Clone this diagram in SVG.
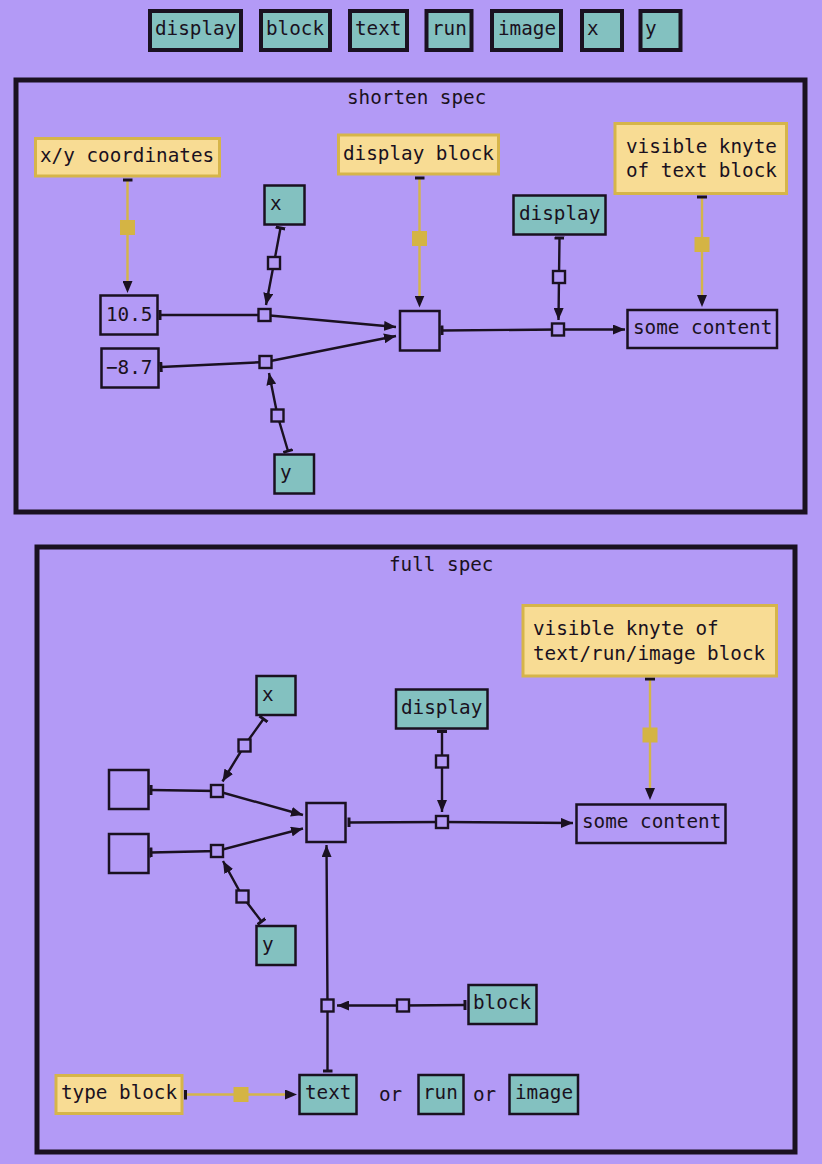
<svg xmlns="http://www.w3.org/2000/svg" width="822" height="1164" viewBox="0 0 822 1164">
<defs>
<style>
text{font-family:"DejaVu Sans Mono","Liberation Mono",monospace;font-size:19.3px;fill:#1a1120}
.leg{fill:#83c1c0;stroke:#1a1120;stroke-width:4}
.teal{fill:#83c1c0;stroke:#1a1120;stroke-width:2.5}
.plain{fill:#b39af6;stroke:#1a1120;stroke-width:2.5}
.yel{fill:#f8dc94;stroke:#d6b54a;stroke-width:3}
.frame{fill:none;stroke:#1a1120;stroke-width:5}
.e{fill:none;stroke:#1a1120;stroke-width:2.4;marker-start:url(#tee);marker-end:url(#arrow)}
.ey{fill:none;stroke:#d4b54a;stroke-width:2.4;marker-start:url(#tee);marker-end:url(#arrowY)}
.sq{fill:#b39af6;stroke:#1a1120;stroke-width:2.4}
.sqy{fill:#d4b444}
</style>
<marker id="arrow" viewBox="0 0 12 10" refX="12" refY="5" markerWidth="12" markerHeight="10" orient="auto" markerUnits="userSpaceOnUse"><path d="M0,0L12,5L0,10z" fill="#1a1120"/></marker>
<marker id="arrowY" viewBox="0 0 12 10" refX="2" refY="5" markerWidth="12" markerHeight="10" orient="auto" markerUnits="userSpaceOnUse"><path d="M0,0L12,5L0,10z" fill="#1a1120"/></marker>
<marker id="tee" viewBox="-2 -5 4 10" refX="0" refY="0" markerWidth="4" markerHeight="10" orient="auto" markerUnits="userSpaceOnUse"><path d="M0,-5V5" stroke="#1a1120" stroke-width="3"/></marker>
</defs>
<rect x="0" y="0" width="822" height="1164" fill="#b39af6"/>

<g id="legend">
<g id="leg-display"><rect class="leg" x="150" y="11" width="91" height="39"/><text x="155" y="35">display</text></g>
<g id="leg-block"><rect class="leg" x="261" y="11" width="69" height="39"/><text x="266" y="35">block</text></g>
<g id="leg-text"><rect class="leg" x="350" y="11" width="57" height="39"/><text x="355" y="35">text</text></g>
<g id="leg-run"><rect class="leg" x="426.5" y="11" width="45" height="39"/><text x="432" y="35">run</text></g>
<g id="leg-image"><rect class="leg" x="492" y="11" width="69" height="39"/><text x="498" y="35">image</text></g>
<g id="leg-x"><rect class="leg" x="582" y="11" width="40" height="39"/><text x="587" y="35">x</text></g>
<g id="leg-y"><rect class="leg" x="640.5" y="11" width="40" height="39"/><text x="645" y="35">y</text></g>
</g>

<g id="frame-shorten"><rect class="frame" x="16" y="80" width="789" height="432"/><text x="347" y="104">shorten spec</text></g>
<g id="frame-full"><rect class="frame" x="37" y="547" width="758" height="605"/><text x="389" y="571">full spec</text></g>

<g id="connectors">
<!-- shorten spec -->
<path class="e" d="M160,315 L264.5,315 L396,327"/>
<path class="e" d="M161,367 L265.5,362 L396,336"/>
<path class="e" d="M280.5,228 L274,263 L266,305"/>
<path class="e" d="M288,451 L277.5,415.5 L269,373"/>
<path class="e" d="M442,330.5 L558,329.5 L625,329.5"/>
<path class="e" d="M559.5,238 L559,277 L558.5,320"/>
<path class="ey" d="M127.5,180 L127.5,283"/>
<path class="ey" d="M419.5,178 L419.5,297.5"/>
<path class="ey" d="M702,197 L702,297"/>
<rect class="sq" x="258.5" y="309" width="12" height="12"/>
<rect class="sq" x="259.5" y="356" width="12" height="12"/>
<rect class="sq" x="268" y="257" width="12" height="12"/>
<rect class="sq" x="271.5" y="409.5" width="12" height="12"/>
<rect class="sq" x="552" y="323.5" width="12" height="12"/>
<rect class="sq" x="553" y="271" width="12" height="12"/>
<rect class="sqy" x="120" y="220" width="15" height="15"/>
<rect class="sqy" x="412" y="231" width="15" height="15"/>
<rect class="sqy" x="694.5" y="237" width="15" height="15"/>
<!-- full spec -->
<path class="e" d="M151,790 L217,791 L303,815"/>
<path class="e" d="M151,852.5 L217,851 L303,828.5"/>
<path class="e" d="M263.5,719 L244.5,745.5 L222.5,781.5"/>
<path class="e" d="M261.5,921.5 L242.5,896.5 L223,861"/>
<path class="e" d="M349,822.5 L442,822 L573,823"/>
<path class="e" d="M442,731.5 L442,761.5 L442,812"/>
<path class="e" d="M327.5,1071 L327.5,1005.5 L326.5,845"/>
<path class="e" d="M465,1005 L403,1005.5 L337,1005.5"/>
<path class="ey" d="M650,679 L650,790"/>
<path class="ey" d="M185.5,1094.5 L287,1094.5"/>
<rect class="sq" x="211" y="785" width="12" height="12"/>
<rect class="sq" x="211" y="845" width="12" height="12"/>
<rect class="sq" x="238.5" y="739.5" width="12" height="12"/>
<rect class="sq" x="236.5" y="890.5" width="12" height="12"/>
<rect class="sq" x="436" y="816" width="12" height="12"/>
<rect class="sq" x="436" y="755.5" width="12" height="12"/>
<rect class="sq" x="321.5" y="999.5" width="12" height="12"/>
<rect class="sq" x="397" y="999.5" width="12" height="12"/>
<rect class="sqy" x="642.5" y="727.5" width="15" height="15"/>
<rect class="sqy" x="233.5" y="1087" width="15" height="15"/>
</g>

<!-- shorten spec nodes -->
<g id="s-xy-coords"><rect class="yel" x="35.5" y="138.5" width="184" height="37.5"/><text x="40" y="162">x/y coordinates</text></g>
<g id="s-display-block"><rect class="yel" x="338.5" y="135" width="160" height="39"/><text x="343" y="160">display block</text></g>
<g id="s-visible-knyte"><rect class="yel" x="615" y="123.5" width="171.5" height="70"/><text x="626" y="153">visible knyte</text><text x="626" y="177">of text block</text></g>
<g id="s-x"><rect class="teal" x="264.5" y="185.5" width="40" height="39"/><text x="270" y="210">x</text></g>
<g id="s-y"><rect class="teal" x="274.5" y="454.5" width="39.5" height="39"/><text x="280" y="479">y</text></g>
<g id="s-10-5"><rect class="plain" x="100.5" y="295.5" width="57" height="39"/><text x="106" y="321">10.5</text></g>
<g id="s-minus-8-7"><rect class="plain" x="101.5" y="348.5" width="57" height="39"/><text x="106" y="374">−8.7</text></g>
<g id="s-center"><rect class="plain" x="400" y="311" width="39.5" height="39.5"/></g>
<g id="s-display"><rect class="teal" x="513.5" y="195.5" width="92" height="39"/><text x="519" y="220">display</text></g>
<g id="s-some-content"><rect class="plain" x="627.5" y="310" width="149.5" height="38"/><text x="633" y="334">some content</text></g>

<!-- full spec nodes -->
<g id="f-visible-knyte"><rect class="yel" x="523" y="605.5" width="253.5" height="70.5"/><text x="533" y="635">visible knyte of</text><text x="533" y="660">text/run/image block</text></g>
<g id="f-x"><rect class="teal" x="256.5" y="676" width="39" height="39"/><text x="262" y="701">x</text></g>
<g id="f-display"><rect class="teal" x="396" y="689.5" width="91.5" height="39"/><text x="401" y="714">display</text></g>
<g id="f-box1"><rect class="plain" x="109" y="770" width="39.5" height="39"/></g>
<g id="f-box2"><rect class="plain" x="109" y="834" width="39.5" height="39"/></g>
<g id="f-center"><rect class="plain" x="306.5" y="803" width="39" height="39"/></g>
<g id="f-y"><rect class="teal" x="256.5" y="926" width="39" height="39"/><text x="262" y="951">y</text></g>
<g id="f-some-content"><rect class="plain" x="576.5" y="804.5" width="149" height="38.5"/><text x="582" y="828">some content</text></g>
<g id="f-block"><rect class="teal" x="468.5" y="985" width="68" height="39"/><text x="473" y="1009">block</text></g>
<g id="f-type-block"><rect class="yel" x="56" y="1075.5" width="126" height="38"/><text x="61" y="1099">type block</text></g>
<g id="f-text"><rect class="teal" x="299.5" y="1075" width="57" height="39"/><text x="305" y="1099">text</text></g>
<g id="f-run"><rect class="teal" x="418.5" y="1075" width="45" height="39"/><text x="423" y="1099">run</text></g>
<g id="f-image"><rect class="teal" x="509.5" y="1075" width="68.5" height="39"/><text x="515" y="1099">image</text></g>
<text x="379" y="1101">or</text>
<text x="473" y="1101">or</text>
</svg>
